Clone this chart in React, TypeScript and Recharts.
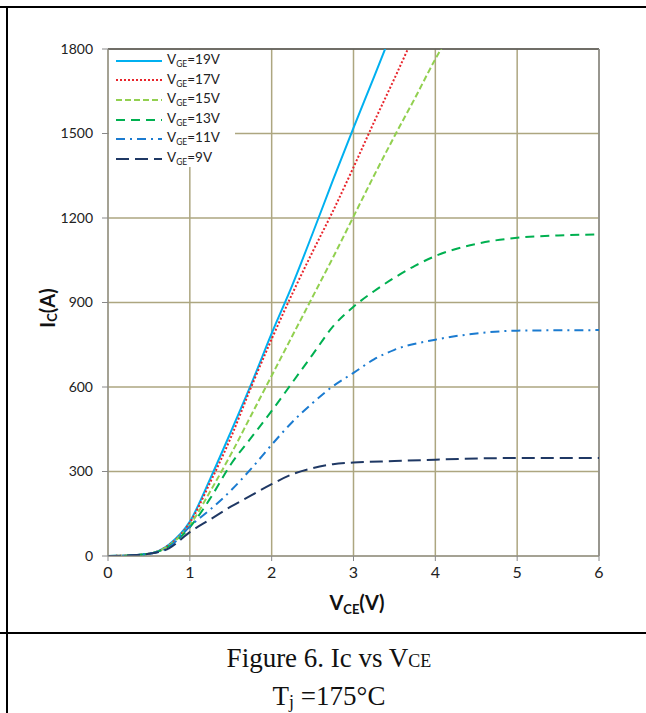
import React from "react";
import { LineChart, Line, XAxis, YAxis, CartesianGrid, ReferenceLine, Legend } from "recharts";

// V_CE (V), I_C (A) pairs
const vge19: [number, number][] = [[0,0],[0.25,2],[0.5,8],[0.75,42],[1,122],[1.25,275],[1.5,440],[1.75,610],[2,790],[2.25,960],[2.5,1145],[2.75,1335],[3,1520],[3.25,1700],[3.4,1810]];
const vge17: [number, number][] = [[0,0],[0.25,2],[0.5,8],[0.75,40],[1,118],[1.25,262],[1.5,420],[1.75,600],[2,770],[2.25,930],[2.5,1080],[2.75,1225],[3,1380],[3.25,1540],[3.5,1695],[3.68,1810]];
const vge15: [number, number][] = [[0,0],[0.25,2],[0.5,8],[0.75,38],[1,110],[1.25,230],[1.5,360],[1.75,500],[2,640],[2.25,780],[2.5,920],[2.75,1060],[3,1205],[3.25,1350],[3.5,1490],[3.75,1625],[4,1764],[4.1,1815]];
const vge13: [number, number][] = [[0,0],[0.25,2],[0.5,8],[0.75,35],[1,102],[1.25,205],[1.5,325],[1.75,420],[2,515],[2.25,615],[2.5,715],[2.75,815],[3,885],[3.25,940],[3.5,988],[3.75,1030],[4,1065],[4.5,1108],[5,1130],[5.5,1138],[6,1142]];
const vge11: [number, number][] = [[0,0],[0.25,2],[0.5,8],[0.75,32],[1,105],[1.25,165],[1.5,232],[1.75,310],[2,395],[2.25,475],[2.5,543],[2.75,603],[3,650],[3.25,698],[3.5,732],[4,768],[4.5,790],[5,800],[6,802]];
const vge9: [number, number][] = [[0,0],[0.25,2],[0.5,8],[0.75,28],[1,85],[1.25,130],[1.5,175],[1.75,215],[2,255],[2.25,290],[2.5,312],[2.75,326],[3,332],[3.5,337],[4,342],[5,348],[6,348]];

const xTicks = [0, 1, 2, 3, 4, 5, 6];
const yTicks = [0, 300, 600, 900, 1200, 1500, 1800];
const seriesLabels = ["19V", "17V", "15V", "13V", "11V", "9V"];

const toPoints = (arr: [number, number][]) => arr.map(([x, y]) => ({ x, y }));

const series = [
  { key: "s19", label: seriesLabels[0], data: toPoints(vge19), color: "#00B0F0", dash: undefined as string | undefined },
  { key: "s17", label: seriesLabels[1], data: toPoints(vge17), color: "#E8242B", dash: "2 2" },
  { key: "s15", label: seriesLabels[2], data: toPoints(vge15), color: "#92D050", dash: "6 3" },
  { key: "s13", label: seriesLabels[3], data: toPoints(vge13), color: "#00B050", dash: "9 6" },
  { key: "s11", label: seriesLabels[4], data: toPoints(vge11), color: "#1B7BD0", dash: "9 5 2 5" },
  { key: "s9", label: seriesLabels[5], data: toPoints(vge9), color: "#1F3864", dash: "13 6" },
];

const FONT = "Lato, 'Open Sans', sans-serif";

const LegendBox = () => (
  <div
    style={{
      background: "#fff",
      width: 126,
      height: 117,
      boxSizing: "border-box",
      paddingTop: 1,
      fontFamily: FONT,
      fontSize: 13.5,
      color: "#222",
    }}
  >
    {series.map((s) => (
      <div key={s.key} style={{ display: "flex", alignItems: "center", height: 19.6, lineHeight: "19.6px" }}>
        <svg width={58} height={10} style={{ display: "block" }}>
          <line x1={7} y1={5} x2={53} y2={5} stroke={s.color} strokeWidth={2} strokeDasharray={s.dash} />
        </svg>
        <span>
          V<span style={{ fontSize: 8.5, position: "relative", top: 3 }}>GE</span>={s.label}
        </span>
      </div>
    ))}
  </div>
);

const YLabel = (props: any) => {
  const cx = 47;
  const cy = 308;
  return (
    <text
      x={cx}
      y={cy}
      transform={`rotate(-90 ${cx} ${cy})`}
      textAnchor="middle"
      dominantBaseline="central"
      fontFamily={FONT}
      fontWeight={700}
      fontSize={20}
      fill="#111"
    >
      I<tspan fontSize={13} dy={5}>C</tspan>
      <tspan dy={-5}>(A)</tspan>
    </text>
  );
};

const XLabel = (props: any) => {
  return (
    <text x={357} y={610} textAnchor="middle" fontFamily={FONT} fontWeight={700} fontSize={20} fill="#111">
      V<tspan fontSize={13} dy={4}>CE</tspan>
      <tspan dy={-4}>(V)</tspan>
    </text>
  );
};

export default function App() {
  return (
    <div style={{ position: "absolute", left: 0, top: 0, width: 646, height: 713, background: "#fff", overflow: "hidden" }}>
      {/* table borders */}
      <div style={{ position: "absolute", left: 0, top: 6, width: 646, height: 2, background: "#000" }} />
      <div style={{ position: "absolute", left: 6, top: 6, width: 2, height: 707, background: "#000" }} />
      <div style={{ position: "absolute", left: 0, top: 632, width: 646, height: 2, background: "#000" }} />

      <div style={{ position: "absolute", left: 0, top: 0 }}>
        <LineChart width={646} height={630} margin={{ top: 49, right: 47, left: 48, bottom: 44 }}>
          <CartesianGrid stroke="#ADA680" strokeWidth={1.5} />
          <XAxis
            type="number"
            dataKey="x"
            domain={[0, 6]}
            ticks={xTicks}
            allowDataOverflow
            height={30}
            stroke="#888"
            tickSize={5}
            tickMargin={6}
            tick={{ fontFamily: FONT, fontSize: 16, fill: "#222" }}
            label={<XLabel />}
          />
          <YAxis
            type="number"
            dataKey="y"
            domain={[0, 1800]}
            ticks={yTicks}
            allowDataOverflow
            width={60}
            stroke="#888"
            tickSize={6}
            tickMargin={9}
            tick={{ fontFamily: FONT, fontSize: 14, fill: "#222" }}
            label={<YLabel />}
          />
          <ReferenceLine y={1800} stroke="#555" strokeWidth={1.5} />
          <ReferenceLine x={6} stroke="#8a8a8a" strokeWidth={1.5} />
          {series.map((s) => (
            <Line
              key={s.key}
              data={s.data}
              dataKey="y"
              name={"VGE=" + s.label}
              type="monotone"
              stroke={s.color}
              strokeWidth={2}
              strokeDasharray={s.dash}
              dot={false}
              activeDot={false}
              isAnimationActive={false}
            />
          ))}
          <Legend
            layout="vertical"
            align="center"
            verticalAlign="middle"
            content={() => <LegendBox />}
            wrapperStyle={{ position: "absolute", left: 109, top: 50, width: 126, height: 117 }}
          />
        </LineChart>
      </div>

      {/* caption */}
      <div
        style={{
          position: "absolute",
          left: 10,
          top: 641,
          width: 638,
          textAlign: "center",
          fontFamily: "'Liberation Serif', 'Times New Roman', serif",
          fontSize: 27,
          color: "#111",
          lineHeight: "35px",
        }}
      >
        <div>
          Figure 6. Ic vs V<span style={{ fontSize: 18 }}>CE</span>
        </div>
        <div>
          T<span style={{ fontSize: 18, position: "relative", top: 3 }}>j</span> =175°C
        </div>
      </div>
    </div>
  );
}
